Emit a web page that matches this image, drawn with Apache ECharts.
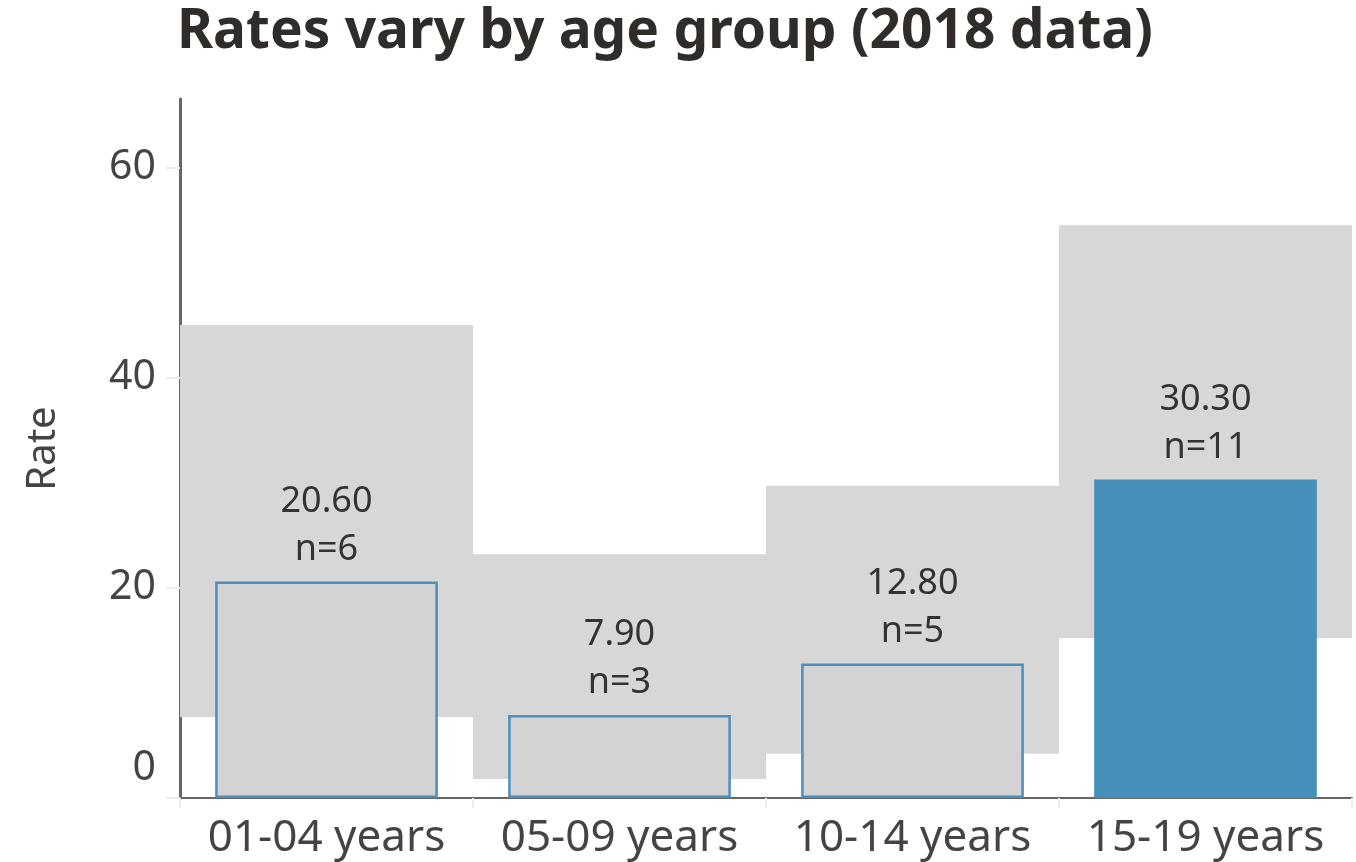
<!DOCTYPE html>
<html>
<head>
<meta charset="utf-8">
<script src="https://cdn.jsdelivr.net/npm/echarts@6/dist/echarts.min.js"></script>
<style>
  html, body { margin: 0; padding: 0; background: #fff; }
  #chart { width: 1356px; height: 862px; }
</style>
</head>
<body>
<div id="chart"></div>
<script>
// 年龄组与数据
const categories = ['01-04 years', '05-09 years', '10-14 years', '15-19 years'];
const rates = [20.6, 7.9, 12.8, 30.3];
const counts = [6, 3, 5, 11];
// 置信区间（灰色背景带）
const bandLow = [7.7, 1.8, 4.2, 15.2];
const bandHigh = [45.0, 23.2, 29.7, 54.5];
const yTicks = [0, 20, 40, 60];

const highlightIndex = 3;

const chart = echarts.init(document.getElementById('chart'));

const barData = rates.map((v, i) => {
  if (i === highlightIndex) {
    return { value: v, itemStyle: { color: '#468fb8', borderWidth: 0 } };
  }
  return { value: v };
});

const option = {
  backgroundColor: '#ffffff',
  animation: false,
  title: {
    text: 'Rates vary by age group (2018 data)',
    left: 172,
    top: 0,
    textStyle: {
      fontFamily: 'Noto Sans',
      fontSize: 55,
      fontWeight: 'bold',
      color: '#2f2c2a'
    }
  },
  grid: { left: 180, right: 4, top: 99, bottom: 64 },
  xAxis: [{
    type: 'category',
    data: categories,
    axisLine: { lineStyle: { color: '#666', width: 2 } },
    axisTick: { show: true, length: 10, lineStyle: { color: '#ececec', width: 2 } },
    axisLabel: {
      interval: 0,
      hideOverlap: false,
      fontFamily: 'Noto Sans',
      fontSize: 44,
      color: '#444',
      margin: 18
    }
  }, {
    type: 'category',
    data: categories,
    show: false
  }],
  yAxis: {
    type: 'value',
    min: 0,
    max: 66.5,
    interval: 20,
    name: 'Rate',
    nameLocation: 'middle',
    nameGap: 116,
    nameTextStyle: { fontFamily: 'Noto Sans', fontSize: 40, color: '#444' },
    axisLine: { show: true, lineStyle: { color: '#666', width: 3 } },
    axisTick: { show: true, length: 14, lineStyle: { color: '#ececec', width: 2 } },
    splitLine: { show: false },
    axisLabel: {
      fontFamily: 'Noto Sans',
      fontSize: 41,
      color: '#444',
      margin: 24,
      showMaxLabel: false,
      formatter: v => (v === 0 ? '{z|0}' : (yTicks.includes(v) ? String(v) : '')),
      rich: { z: { fontFamily: 'Noto Sans', fontSize: 41, color: '#444', padding: [0, 0, 60, 0] } }
    }
  },
  series: [
    {
      // 透明底座
      type: 'bar',
      xAxisIndex: 1,
      stack: 'band',
      barWidth: '100%',
      itemStyle: { color: 'transparent' },
      silent: true,
      data: bandLow
    },
    {
      type: 'bar',
      xAxisIndex: 1,
      stack: 'band',
      barWidth: '100%',
      itemStyle: { color: '#d7d7d7' },
      silent: true,
      data: bandHigh.map((h, i) => +(h - bandLow[i]).toFixed(2))
    },
    {
      type: 'bar',
      xAxisIndex: 0,
      barWidth: '76%',
      itemStyle: { color: '#d3d3d3', borderColor: '#4a8fbd', borderWidth: 2.5 },
      label: {
        show: true,
        position: 'top',
        distance: 8,
        fontFamily: 'Noto Sans',
        fontSize: 36,
        lineHeight: 48,
        color: '#333',
        formatter: p => rates[p.dataIndex].toFixed(2) + '\nn=' + counts[p.dataIndex]
      },
      data: barData
    }
  ]
};

chart.setOption(option);
</script>
</body>
</html>
